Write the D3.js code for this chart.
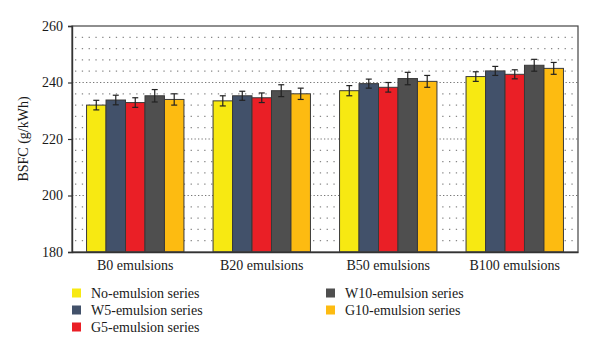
<html>
<head>
<script src="https://d3js.org/d3.v7.min.js"></script>
<style>
  body { margin: 0; background: #fff; }
  text { font-family: "Liberation Serif", "DejaVu Serif", serif; fill: #1a1a1a; }
</style>
</head>
<body>
<div id="chart"></div>
<script>
  var categories = ["B0 emulsions", "B20 emulsions", "B50 emulsions", "B100 emulsions"];
  var seriesNames = ["No-emulsion series", "W5-emulsion series", "G5-emulsion series", "W10-emulsion series", "G10-emulsion series"];
  var seriesColors = ["#f7e912", "#42516a", "#ea1f26", "#4f4f4f", "#fdbb11"];
  // values per series, one per category
  var noEmulsion = [232.0, 233.5, 237.1, 242.1];
  var w5 = [233.8, 235.3, 239.6, 244.1];
  var g5 = [232.9, 234.6, 238.3, 242.9];
  var w10 = [235.3, 237.1, 241.4, 246.1];
  var g10 = [234.0, 236.0, 240.4, 245.0];
  var errNoEmulsion = [1.7, 1.8, 1.8, 1.7];
  var errW5 = [1.7, 1.6, 1.6, 1.6];
  var errG5 = [1.7, 1.7, 1.7, 1.6];
  var errW10 = [2.2, 2.1, 2.2, 2.1];
  var errG10 = [2.0, 2.0, 2.1, 2.1];
  var yTicks = [180, 200, 220, 240, 260];

  var values = [noEmulsion, w5, g5, w10, g10];
  var errors = [errNoEmulsion, errW5, errG5, errW10, errG10];

  var width = 600, height = 354;
  var margin = {top: 26, right: 22, bottom: 102, left: 72};
  var w = width - margin.left - margin.right,
      h = height - margin.top - margin.bottom;

  var svg = d3.select("#chart").append("svg")
      .attr("width", width)
      .attr("height", height);

  var g = svg.append("g")
      .attr("transform", "translate(" + margin.left + "," + margin.top + ")");

  var x0 = d3.scaleBand().domain(categories).range([0, w]).paddingInner(0.23).paddingOuter(0.115);
  var x1 = d3.scaleBand().domain(d3.range(seriesNames.length)).range([0, x0.bandwidth()]);
  var y = d3.scaleLinear().domain([180, 260]).range([h, 0]);

  // dotted grid: minor every 4, major every 20
  var minor = d3.range(184, 260, 4).filter(function(v) { return v % 20 != 0; });
  g.selectAll(".minor").data(minor).enter().append("line")
      .attr("x1", 3).attr("x2", w)
      .attr("y1", function(d) { return y(d); })
      .attr("y2", function(d) { return y(d); })
      .attr("stroke", "#888")
      .attr("stroke-width", 1.2)
      .attr("stroke-dasharray", "1.3,5.5");
  g.selectAll(".major").data([200, 220, 240]).enter().append("line")
      .attr("x1", 0).attr("x2", w)
      .attr("y1", function(d) { return y(d); })
      .attr("y2", function(d) { return y(d); })
      .attr("stroke", "#777")
      .attr("stroke-width", 1.2)
      .attr("stroke-dasharray", "1.3,2.2");

  var groups = g.selectAll(".grp").data(categories).enter().append("g")
      .attr("transform", function(d) { return "translate(" + x0(d) + ",0)"; });

  groups.selectAll("rect").data(function(d, i) {
      return values.map(function(s, k) { return {k: k, v: s[i], e: errors[k][i]}; });
    }).enter().append("rect")
      .attr("x", function(d) { return x1(d.k); })
      .attr("y", function(d) { return y(d.v); })
      .attr("width", x1.bandwidth())
      .attr("height", function(d) { return h - y(d.v); })
      .attr("fill", function(d) { return seriesColors[d.k]; })
      .attr("stroke", "#3a3a3a")
      .attr("stroke-width", 1);

  var eb = groups.selectAll(".err").data(function(d, i) {
      return values.map(function(s, k) { return {k: k, v: s[i], e: errors[k][i]}; });
    }).enter().append("g")
      .attr("transform", function(d) { return "translate(" + (x1(d.k) + x1.bandwidth() / 2) + ",0)"; });
  eb.append("line")
      .attr("x1", 0).attr("x2", 0)
      .attr("y1", function(d) { return y(d.v + d.e); })
      .attr("y2", function(d) { return y(d.v - d.e); })
      .attr("stroke", "#222").attr("stroke-width", 1.2);
  eb.append("line")
      .attr("x1", -3).attr("x2", 3)
      .attr("y1", function(d) { return y(d.v + d.e); })
      .attr("y2", function(d) { return y(d.v + d.e); })
      .attr("stroke", "#222").attr("stroke-width", 1.2);
  eb.append("line")
      .attr("x1", -3).attr("x2", 3)
      .attr("y1", function(d) { return y(d.v - d.e); })
      .attr("y2", function(d) { return y(d.v - d.e); })
      .attr("stroke", "#222").attr("stroke-width", 1.2);

  // frame
  g.append("rect")
      .attr("x", 0).attr("y", 0).attr("width", w).attr("height", h)
      .attr("fill", "none").attr("stroke", "#444").attr("stroke-width", 1.2);

  var yAxis = g.append("g")
      .call(d3.axisLeft(y).tickValues(yTicks).tickSize(4).tickPadding(5));
  yAxis.select(".domain").attr("stroke", "#333").attr("stroke-width", 1.4);
  yAxis.selectAll(".tick line").attr("stroke", "#333").attr("stroke-width", 1.2);
  yAxis.selectAll("text").style("font-size", "14px").attr("fill", "#1a1a1a");

  var xAxis = g.append("g")
      .attr("transform", "translate(0," + h + ")")
      .call(d3.axisBottom(x0).tickSize(0).tickPadding(8));
  xAxis.select(".domain").attr("stroke", "#333").attr("stroke-width", 1.4);
  xAxis.selectAll("text").style("font-size", "14px").attr("fill", "#1a1a1a");

  svg.append("text")
      .attr("transform", "translate(28," + (margin.top + h / 2) + ") rotate(-90)")
      .attr("text-anchor", "middle")
      .style("font-size", "14px")
      .text("BSFC (g/kWh)");

  // legend
  var legendPos = [[72, 293], [72, 310], [72, 327], [326, 293], [326, 310]];
  var leg = svg.selectAll(".leg").data(seriesNames).enter().append("g")
      .attr("transform", function(d, i) { return "translate(" + legendPos[i][0] + "," + legendPos[i][1] + ")"; });
  leg.append("rect")
      .attr("x", 0).attr("y", -4.5).attr("width", 9).attr("height", 9)
      .attr("fill", function(d, i) { return seriesColors[i]; });
  leg.append("text")
      .attr("x", 19).attr("y", 0).attr("dy", "0.35em")
      .style("font-size", "14px")
      .text(function(d) { return d; });
</script>
</body>
</html>
